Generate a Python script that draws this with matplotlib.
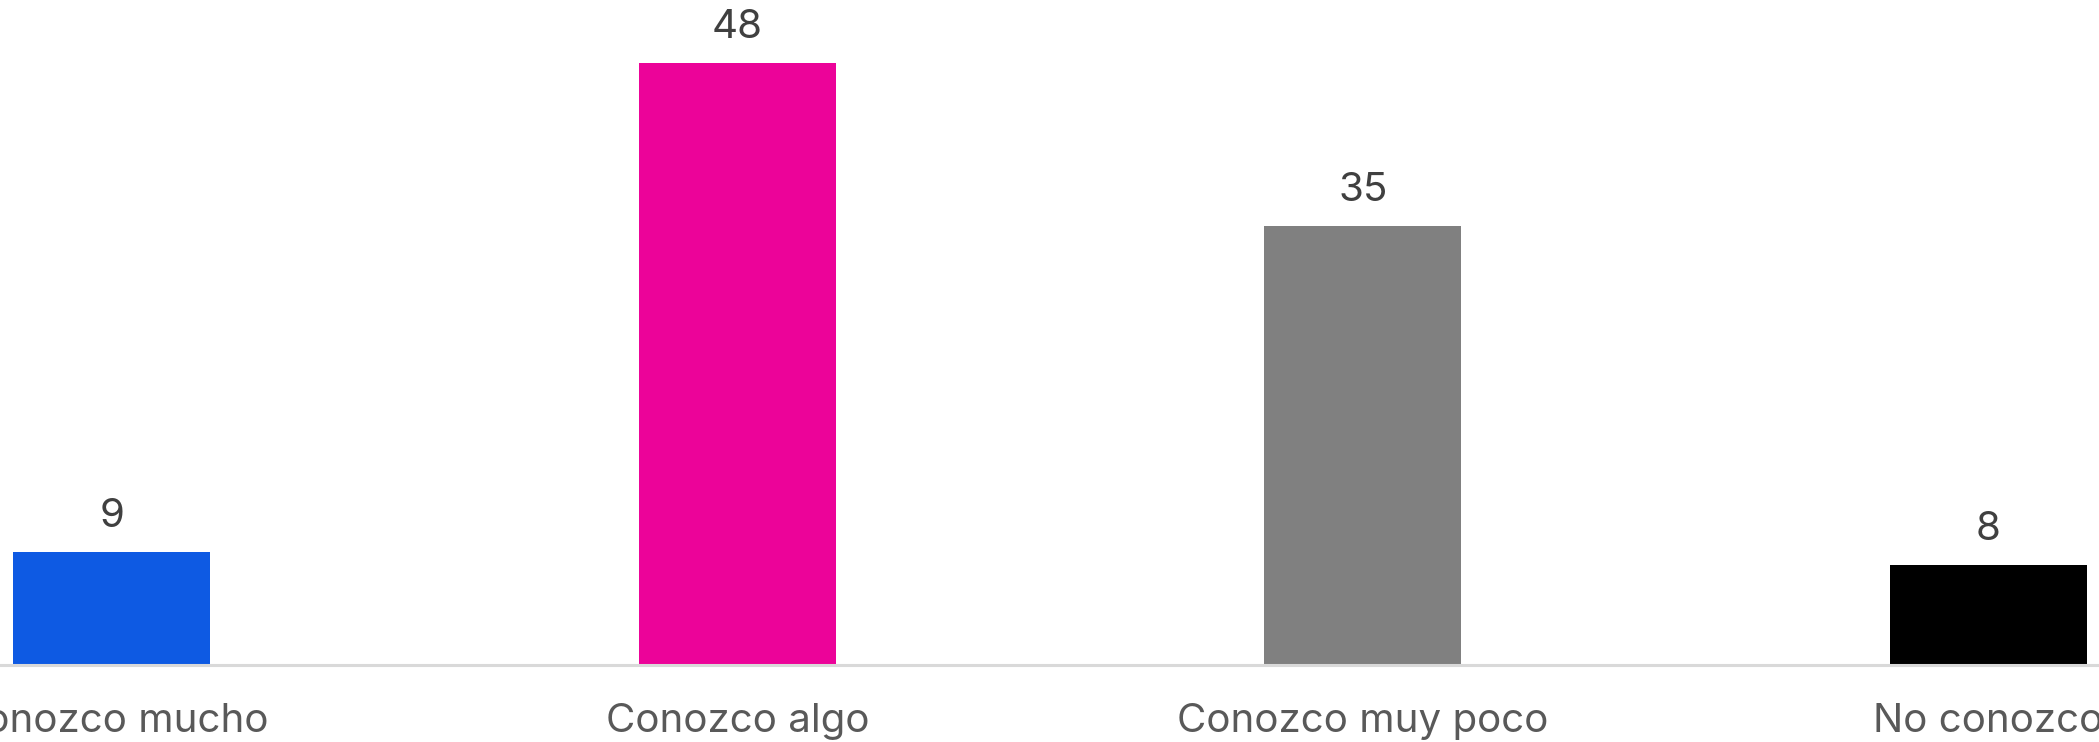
import matplotlib
matplotlib.use('Agg')
import matplotlib.pyplot as plt

# Chart data
categories = ['Conozco mucho', 'Conozco algo', 'Conozco muy poco', 'No conozco']
values = [9, 48, 35, 8]
colors = ['#0E5AE3', '#EC0399', '#808080', '#000000']

plt.rcParams['font.family'] = ['Inter', 'DejaVu Sans']

fig = plt.figure(figsize=[20.99, 7.42], dpi=100)

# Axes wider than the figure, so the outer labels get cut like the original
ax = fig.add_axes([-201 / 2099, 77 / 742, 2502 / 2099, 665 / 742])

x = range(len(categories))
bars = ax.bar(x, values, width=0.315, color=colors)

ax.set_xlim(-0.5, len(categories) - 0.5)
ax.set_ylim(0, 665 / 12.54)

# Value labels above bars
for rect, v in zip(bars, values):
    ax.annotate(str(v), (rect.get_x() + rect.get_width() / 2, v),
                xytext=(0, 12), textcoords='offset points',
                ha='center', va='bottom', fontsize=29, color='#404040')

ax.set_xticks(list(x))
ax.set_xticklabels(categories, fontsize=29, color='#595959')
ax.tick_params(axis='x', length=0, pad=27)
ax.set_yticks([])

for side in ['top', 'right', 'left']:
    ax.spines[side].set_visible(False)
ax.spines['bottom'].set_color('#d9d9d9')
ax.spines['bottom'].set_linewidth(2.2)

fig.savefig('out.png', dpi=100)
